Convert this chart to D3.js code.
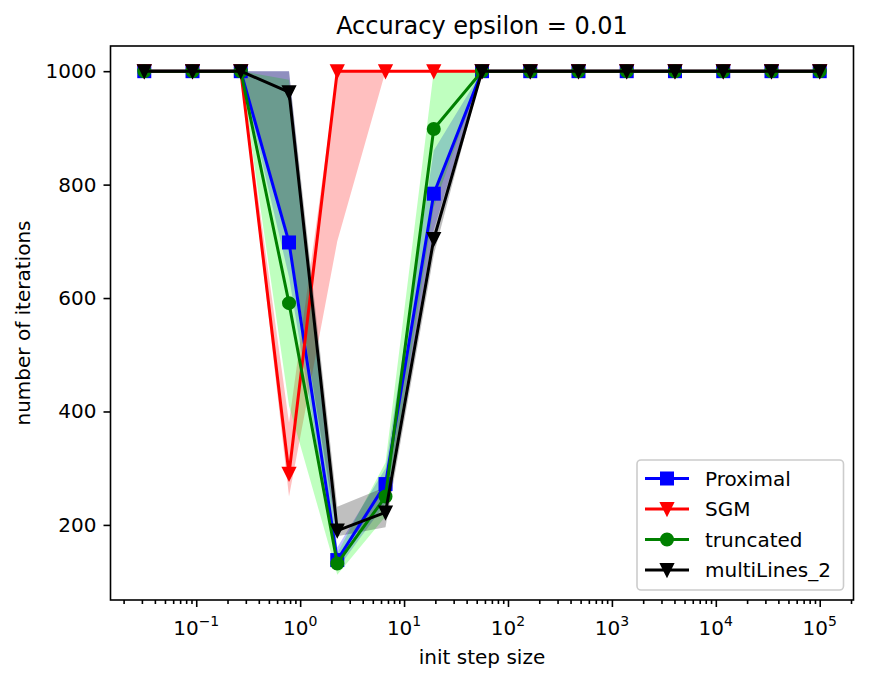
<!DOCTYPE html>
<html>
<head>
<meta charset="utf-8">
<script src="https://cdn.jsdelivr.net/npm/d3@7"></script>
<style>
  body { margin: 0; background: #fff; }
  text { font-family: "DejaVu Sans", sans-serif; fill: #000; }
</style>
</head>
<body>
<div id="chart"></div>
<script>
// step sizes (logspace 10^-1.5 .. 10^5, 15 points)
var stepSizes = [0.03162, 0.09211, 0.2683, 0.7814, 2.276, 6.629, 19.31, 56.23,
                 163.8, 477.0, 1389, 4047, 11788, 34340, 100000];

// mean number of iterations + band (lower / upper) per method
var proximal   = [1000, 1000, 1000, 698, 138, 272, 784, 1000, 1000, 1000, 1000, 1000, 1000, 1000, 1000];
var proximalLo = [1000, 1000, 1000, 637, 122, 238, 720, 1000, 1000, 1000, 1000, 1000, 1000, 1000, 1000];
var proximalHi = [1000, 1000, 1000, 1000, 160, 300, 860, 1000, 1000, 1000, 1000, 1000, 1000, 1000, 1000];

var sgm   = [1000, 1000, 1000, 290, 1000, 1000, 1000, 1000, 1000, 1000, 1000, 1000, 1000, 1000, 1000];
var sgmLo = [1000, 1000, 1000, 250, 700, 1000, 1000, 1000, 1000, 1000, 1000, 1000, 1000, 1000, 1000];
var sgmHi = [1000, 1000, 1000, 380, 1000, 1000, 1000, 1000, 1000, 1000, 1000, 1000, 1000, 1000, 1000];

var truncated   = [1000, 1000, 1000, 591, 132, 250, 898, 1000, 1000, 1000, 1000, 1000, 1000, 1000, 1000];
var truncatedLo = [1000, 1000, 1000, 410, 112, 215, 760, 1000, 1000, 1000, 1000, 1000, 1000, 1000, 1000];
var truncatedHi = [1000, 1000, 1000, 985, 150, 310, 1000, 1000, 1000, 1000, 1000, 1000, 1000, 1000, 1000];

var multiLines   = [1000, 1000, 1000, 963, 190, 222, 704, 1000, 1000, 1000, 1000, 1000, 1000, 1000, 1000];
var multiLinesLo = [1000, 1000, 1000, 705, 180, 196, 676, 1000, 1000, 1000, 1000, 1000, 1000, 1000, 1000];
var multiLinesHi = [1000, 1000, 1000, 1000, 232, 267, 780, 1000, 1000, 1000, 1000, 1000, 1000, 1000, 1000];

var seriesNames = ["Proximal", "SGM", "truncated", "multiLines_2"];
var xTickExps = [-1, 0, 1, 2, 3, 4, 5];
var yTicks = [200, 400, 600, 800, 1000];

var series = [
  {name: seriesNames[0], mean: proximal,   lo: proximalLo,   hi: proximalHi,   color: "#0000ff", band: "#0000ff", marker: "square"},
  {name: seriesNames[1], mean: sgm,        lo: sgmLo,        hi: sgmHi,        color: "#ff0000", band: "#ff0000", marker: "tri"},
  {name: seriesNames[2], mean: truncated,  lo: truncatedLo,  hi: truncatedHi,  color: "#008000", band: "#00ff00", marker: "circle"},
  {name: seriesNames[3], mean: multiLines, lo: multiLinesLo, hi: multiLinesHi, color: "#000000", band: "#000000", marker: "tri"}
];

var W = 878, H = 682;
var margin = {top: 46, right: 24.5, bottom: 82, left: 110.5}
  , width = W - margin.left - margin.right
  , height = H - margin.top - margin.bottom;

// matplotlib-like 5% auto margins
var lmin = Math.log10(d3.min(stepSizes)), lmax = Math.log10(d3.max(stepSizes));
var lpad = (lmax - lmin) * 0.05;
var xScale = d3.scaleLog()
    .domain([Math.pow(10, lmin - lpad), Math.pow(10, lmax + lpad)])
    .range([0, width]);

var allY = [].concat(...series.map(function(s) { return s.lo.concat(s.hi, s.mean); }));
var ymin = d3.min(allY), ymax = d3.max(allY), ypad = (ymax - ymin) * 0.05;
var yScale = d3.scaleLinear()
    .domain([ymin - ypad, ymax + ypad])
    .range([height, 0]);

var svg = d3.select("#chart").append("svg")
    .attr("width", W)
    .attr("height", H);

var g = svg.append("g")
    .attr("transform", "translate(" + margin.left + "," + margin.top + ")");

// bands first (collections sit under lines)
var area = d3.area()
    .x(function(d, i) { return xScale(stepSizes[i]); })
    .y0(function(d) { return yScale(d[0]); })
    .y1(function(d) { return yScale(d[1]); });

series.forEach(function(s) {
  g.append("path")
      .datum(s.lo.map(function(v, i) { return [v, s.hi[i]]; }))
      .attr("d", area)
      .attr("fill", s.band)
      .attr("fill-opacity", 0.25);
});

var line = d3.line()
    .x(function(d, i) { return xScale(stepSizes[i]); })
    .y(function(d) { return yScale(d); });

series.forEach(function(s) {
  g.append("path")
      .datum(s.mean)
      .attr("d", line)
      .attr("fill", "none")
      .attr("stroke", s.color)
      .attr("stroke-width", 3)
      .attr("stroke-linejoin", "round");

  var m = g.append("g");
  s.mean.forEach(function(v, i) {
    drawMarker(m, s.marker, xScale(stepSizes[i]), yScale(v), s.color);
  });
});

function drawMarker(sel, type, cx, cy, color) {
  var el;
  if (type === "square") {
    el = sel.append("rect").attr("x", cx - 6).attr("y", cy - 6).attr("width", 12).attr("height", 12);
  } else if (type === "circle") {
    el = sel.append("circle").attr("cx", cx).attr("cy", cy).attr("r", 6);
  } else {
    el = sel.append("path").attr("d", "M" + (cx - 6) + "," + (cy - 6) + "L" + (cx + 6) + "," + (cy - 6) + "L" + cx + "," + (cy + 6) + "Z");
  }
  el.attr("fill", color).attr("stroke", color).attr("stroke-width", 2);
}

// x axis: major + minor ticks
var majors = xTickExps.map(function(e) { return Math.pow(10, e); });
var minors = [];
d3.range(-2, 6).forEach(function(e) {
  d3.range(2, 10).forEach(function(k) {
    var v = k * Math.pow(10, e);
    if (v >= xScale.domain()[0] && v <= xScale.domain()[1]) minors.push(v);
  });
});

g.append("g")
    .attr("transform", "translate(0," + height + ")")
    .call(d3.axisBottom(xScale).tickValues(majors).tickSize(7).tickFormat(""));
g.append("g")
    .attr("transform", "translate(0," + height + ")")
    .call(d3.axisBottom(xScale).tickValues(minors).tickSize(4).tickFormat(""));

g.selectAll(".domain").remove();
g.selectAll(".tick line").attr("stroke", "#000").attr("stroke-width", 1.6);

xTickExps.forEach(function(e) {
  var t = g.append("text")
      .attr("x", xScale(Math.pow(10, e)))
      .attr("y", height + 35)
      .attr("text-anchor", "middle")
      .style("font-size", "20px");
  t.append("tspan").text("10");
  t.append("tspan")
      .attr("dy", -9)
      .style("font-size", "14px")
      .text(e < 0 ? "\u2212" + (-e) : String(e));
});

// y axis
var yAxisG = g.append("g")
    .call(d3.axisLeft(yScale).tickValues(yTicks).tickSize(7).tickPadding(7).tickFormat(d3.format("d")));
yAxisG.select(".domain").remove();
yAxisG.selectAll(".tick line").attr("stroke", "#000").attr("stroke-width", 1.6);
yAxisG.selectAll(".tick text")
    .style("font-size", "20px")
    .style("font-family", "DejaVu Sans");

// frame
g.append("rect")
    .attr("width", width)
    .attr("height", height)
    .attr("fill", "none")
    .attr("stroke", "#000")
    .attr("stroke-width", 1.6);

// title and axis labels
svg.append("text")
    .attr("x", margin.left + width / 2)
    .attr("y", 34)
    .attr("text-anchor", "middle")
    .style("font-size", "24px")
    .text("Accuracy epsilon = 0.01");

svg.append("text")
    .attr("x", margin.left + width / 2)
    .attr("y", 664)
    .attr("text-anchor", "middle")
    .style("font-size", "20px")
    .text("init step size");

svg.append("text")
    .attr("transform", "translate(30," + (margin.top + height / 2) + ") rotate(-90)")
    .attr("text-anchor", "middle")
    .style("font-size", "20px")
    .text("number of iterations");

// legend (lower right)
var legend = svg.append("g");
legend.append("rect")
    .attr("x", 637)
    .attr("y", 460)
    .attr("width", 206.5)
    .attr("height", 130)
    .attr("rx", 4)
    .attr("fill", "#fff")
    .attr("fill-opacity", 0.8)
    .attr("stroke", "#cccccc")
    .attr("stroke-width", 1.6);

series.forEach(function(s, k) {
  var ly = 478.5 + 30.5 * k;
  legend.append("line")
      .attr("x1", 645).attr("x2", 689)
      .attr("y1", ly).attr("y2", ly)
      .attr("stroke", s.color)
      .attr("stroke-width", 3);
  drawMarker(legend, s.marker, 667, ly, s.color);
  legend.append("text")
      .attr("x", 705)
      .attr("y", ly)
      .attr("dy", "0.35em")
      .style("font-size", "20px")
      .text(s.name);
});
</script>
</body>
</html>
